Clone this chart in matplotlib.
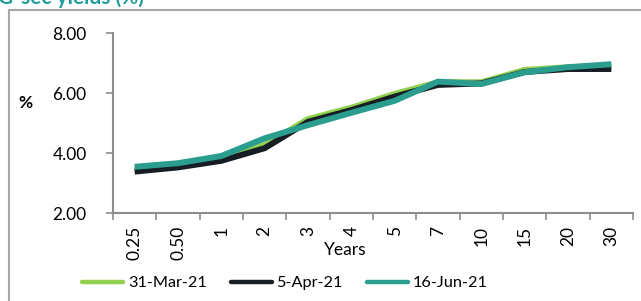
import numpy as np
import matplotlib
matplotlib.use("Agg")
import matplotlib.pyplot as plt
from matplotlib.patches import Rectangle

plt.rcParams["font.family"] = ["Lato", "DejaVu Sans"]

# G-sec yield curve, values in %
TENORS = ["0.25", "0.50", "1", "2", "3", "4", "5", "7", "10", "15", "20", "30"]
MAR31 = [3.45, 3.60, 3.80, 4.27, 5.13, 5.51, 5.97, 6.36, 6.36, 6.77, 6.86, 6.90]
APR05 = [3.38, 3.52, 3.74, 4.16, 5.04, 5.43, 5.88, 6.27, 6.32, 6.70, 6.80, 6.80]
JUN16 = [3.54, 3.66, 3.90, 4.49, 4.93, 5.34, 5.74, 6.38, 6.30, 6.69, 6.86, 6.96]
SERIES = ["31-Mar-21", "5-Apr-21", "16-Jun-21"]

C_GREEN = "#92D050"
C_BLACK = "#161d24"
C_TEAL = "#2A9D8F"
C_AXIS = "#8c8c8c"

fig = plt.figure(figsize=(6.41, 3.01), dpi=100)
ax = fig.add_axes([113 / 641, 88 / 301, 520 / 641, 180 / 301])

x = np.arange(len(TENORS))
ax.plot(x, MAR31, color=C_GREEN, lw=4.3, solid_capstyle="butt", label=SERIES[0])
ax.plot(x, APR05, color=C_BLACK, lw=4.3, solid_capstyle="butt", label=SERIES[1])
ax.plot(x, JUN16, color=C_TEAL, lw=4.3, solid_capstyle="butt", label=SERIES[2])

ax.set_xlim(-0.5, len(TENORS) - 0.5)
ax.set_ylim(2, 8)
ax.set_yticks([2, 4, 6, 8])
ax.set_yticklabels(["2.00", "4.00", "6.00", "8.00"], fontsize=12.5)
ax.set_xticks(x)
ax.set_xticklabels(TENORS, rotation=90, fontsize=12.5)
ax.set_xticks(np.arange(-0.5, len(TENORS)), minor=True)
ax.tick_params(axis="x", which="major", length=0, pad=9)
ax.tick_params(axis="x", which="minor", length=5, width=1.2, color=C_AXIS, direction="out")
ax.tick_params(axis="y", length=5, width=1.2, color=C_AXIS, pad=14)

for side in ["top", "right"]:
    ax.spines[side].set_visible(False)
for side in ["left", "bottom"]:
    ax.spines[side].set_color(C_AXIS)
    ax.spines[side].set_linewidth(1.5)

fig.text(25 / 641, 1 - 103 / 301, "%", fontsize=12.5, fontweight="bold",
         ha="center", va="center")
fig.text(345 / 641, 1 - 250 / 301, "Years", fontsize=12.5, ha="center", va="center")

# title, mostly cropped off the top of the canvas
fig.text(-2 / 641, 1 - 4 / 301, "G-sec yields (%)", fontsize=15, fontweight="bold",
         color="#1f9c9c", ha="left", va="baseline")

# outer frame
frame = Rectangle((9 / 641, -0.2), 1.2, 1 - 10 / 301 + 0.2, transform=fig.transFigure,
                  fill=False, edgecolor="#a6a6a6", lw=1.5, clip_on=False)
fig.patches.append(frame)

leg = fig.legend(loc="center", bbox_to_anchor=(285 / 641, 18 / 301), ncol=3, frameon=False,
                 fontsize=11.7, handlelength=2.5, handletextpad=0.3, columnspacing=1.5,
                 borderaxespad=0)
for line in leg.get_lines():
    line.set_linewidth(3.2)
    line.set_solid_capstyle("round")

fig.savefig("out.png", dpi=100)
